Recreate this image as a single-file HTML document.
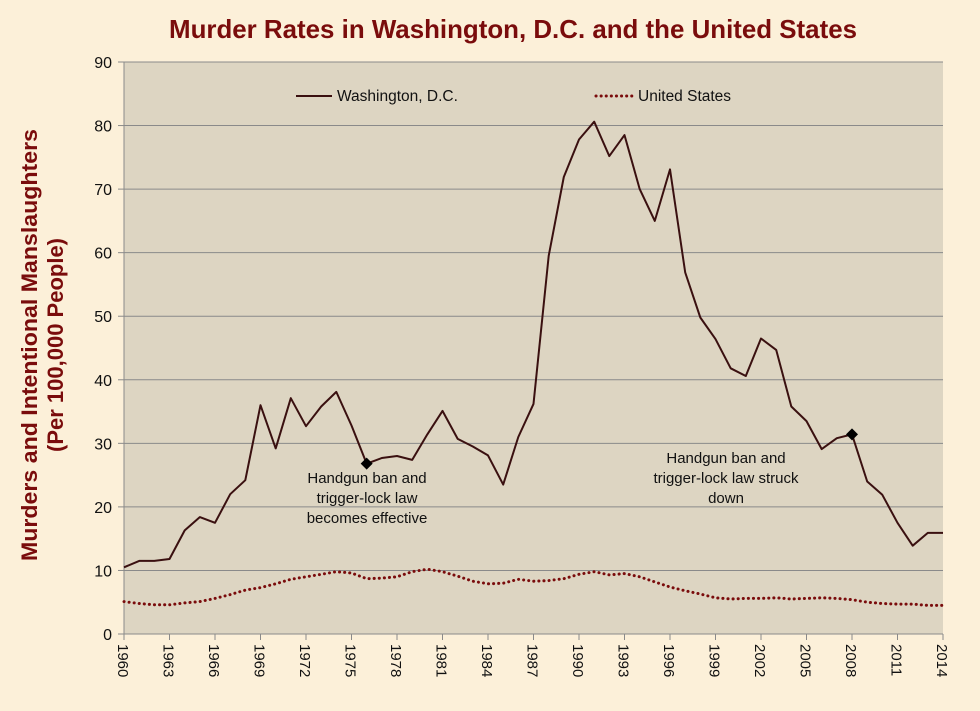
<!DOCTYPE html>
<html><head><meta charset="utf-8"><style>
body{margin:0;background:#fcf0d9;}
svg{display:block;font-family:"Liberation Sans",sans-serif;}
</style></head><body>
<svg id="s" width="980" height="711" xmlns="http://www.w3.org/2000/svg">
<rect width="980" height="711" fill="#fcf0d9"/>
<text x="513" y="38" text-anchor="middle" font-size="26" font-weight="bold" fill="#7a0c0c" textLength="688" lengthAdjust="spacingAndGlyphs">Murder Rates in Washington, D.C. and the United States</text>
<rect x="124" y="62" width="819" height="572" fill="#ddd5c2"/>
<g id="grid"></g>
<text transform="translate(37,345) rotate(-90)" text-anchor="middle" font-size="22" font-weight="bold" fill="#7a0c0c" textLength="432" lengthAdjust="spacingAndGlyphs">Murders and Intentional Manslaughters</text>
<text transform="translate(63,345) rotate(-90)" text-anchor="middle" font-size="22" font-weight="bold" fill="#7a0c0c">(Per 100,000 People)</text>
<line x1="296" y1="96" x2="332" y2="96" stroke="#3a1010" stroke-width="2"/>
<text x="337" y="101" font-size="15.5" fill="#111">Washington, D.C.</text>
<line x1="596" y1="96" x2="632" y2="96" stroke="#7a0c0c" stroke-width="3" stroke-dasharray="0.1 5" stroke-linecap="round"/>
<text x="638" y="101" font-size="15.5" fill="#111">United States</text>
<g font-size="15" fill="#111" text-anchor="middle">
<text x="367" y="483">Handgun  ban and</text>
<text x="367" y="503">trigger-lock  law</text>
<text x="367" y="523">becomes  effective</text>
<text x="726" y="463">Handgun  ban and</text>
<text x="726" y="483">trigger-lock  law struck</text>
<text x="726" y="503">down</text>
</g>
<g id="data"></g>
</svg>
<script>
var NS="http://www.w3.org/2000/svg";
function el(t,a,p){var e=document.createElementNS(NS,t);for(var k in a)e.setAttribute(k,a[k]);p.appendChild(e);return e;}
var g=document.getElementById('grid'),d=document.getElementById('data');
var X=function(i){return 124+i*819/54},Y=function(v){return 634-v*572/90};
for(var v=0;v<=90;v+=10){var y=Y(v);
 if(v>0)el('line',{x1:124,x2:943,y1:y,y2:y,stroke:'#8a8a8a','stroke-width':1},g);
 el('line',{x1:118,x2:124,y1:y,y2:y,stroke:'#8a8a8a'},g);
 var t=el('text',{x:112,y:y+6,'text-anchor':'end','font-size':16,fill:'#111'},g);t.textContent=v;}
el('line',{x1:124,x2:124,y1:62,y2:634,stroke:'#8a8a8a'},g);
el('line',{x1:124,x2:943,y1:634,y2:634,stroke:'#8a8a8a'},g);
for(var i=0;i<=54;i+=3){var x=X(i);
 el('line',{x1:x,x2:x,y1:634,y2:640,stroke:'#8a8a8a'},g);
 var t=el('text',{transform:'translate('+(x-6)+',644) rotate(90)','font-size':15,fill:'#111'},g);t.textContent=1960+i;}
var dc=[10.5,11.5,11.5,11.8,16.3,18.4,17.5,22,24.2,36,29.2,37.1,32.7,35.8,38.1,32.8,26.8,27.7,28,27.4,31.4,35.1,30.7,29.5,28.1,23.5,31,36.2,59.5,71.9,77.8,80.6,75.2,78.5,70,65,73.1,56.9,49.8,46.4,41.8,40.6,46.5,44.7,35.8,33.5,29.1,30.8,31.4,24,21.9,17.5,13.9,15.9,15.9];
var us=[5.1,4.8,4.6,4.6,4.9,5.1,5.6,6.2,6.9,7.3,7.9,8.6,9,9.4,9.8,9.6,8.7,8.8,9,9.8,10.2,9.8,9.1,8.3,7.9,8,8.6,8.3,8.4,8.7,9.4,9.8,9.3,9.5,9,8.2,7.4,6.8,6.3,5.7,5.5,5.6,5.6,5.7,5.5,5.6,5.7,5.6,5.4,5.0,4.8,4.7,4.7,4.5,4.5];
function pts(a){return a.map(function(v,i){return X(i).toFixed(1)+','+Y(v).toFixed(1)}).join(' ');}
el('polyline',{points:pts(us),fill:'none',stroke:'#7a0c0c','stroke-width':3,'stroke-dasharray':'0.1 5','stroke-linecap':'round'},d);
el('polyline',{points:pts(dc),fill:'none',stroke:'#3a1010','stroke-width':2,'stroke-linejoin':'round'},d);
[16,48].forEach(function(i){var x=X(i),y=Y(dc[i]);
 el('polygon',{points:(x)+','+(y-6)+' '+(x+6)+','+y+' '+x+','+(y+6)+' '+(x-6)+','+y,fill:'#000'},d);});
</script>
</body></html>
